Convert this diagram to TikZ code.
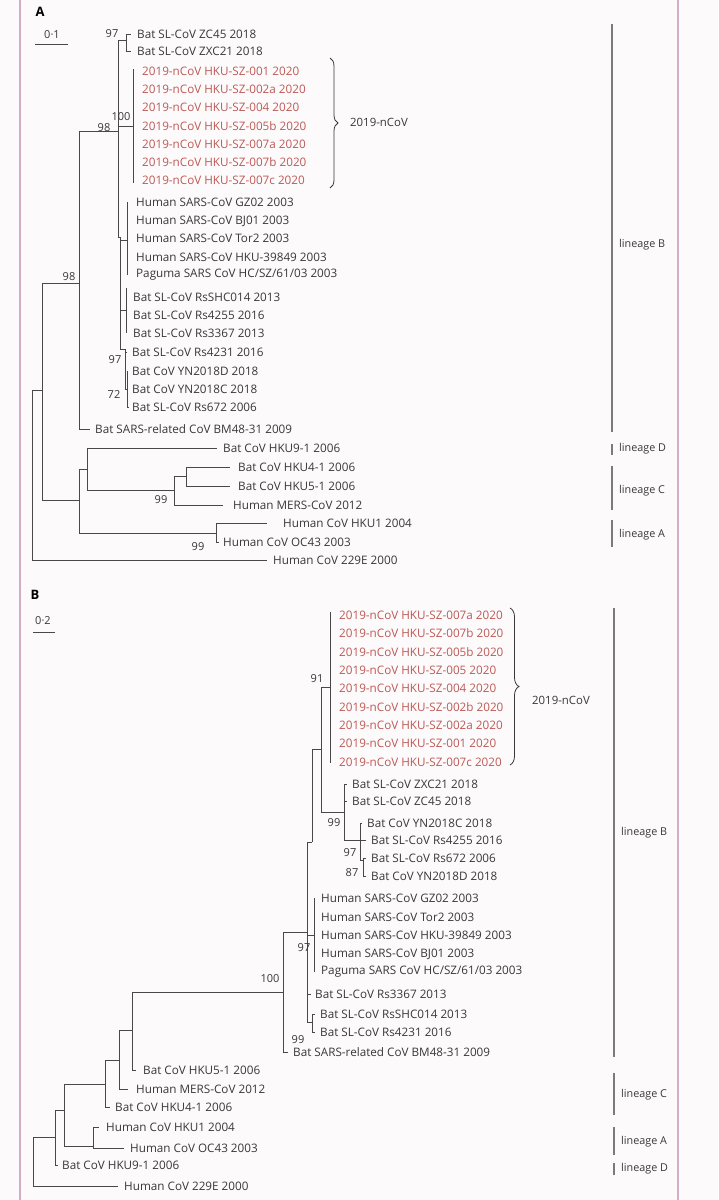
\documentclass[tikz,border=0pt]{standalone}
\usepackage{fontspec}
\setmainfont{Open Sans}
\usepackage{tikz}
\usetikzlibrary{decorations.pathreplacing}
\definecolor{ink}{HTML}{383838}
\definecolor{branch}{HTML}{484848}
\definecolor{ncov}{HTML}{BC5A55}
\definecolor{bar}{HTML}{7A7A7A}
\definecolor{rim}{HTML}{D2AEC2}
\definecolor{paper}{HTML}{FDFAFC}
\tikzset{
  br/.style={draw=branch, line width=0.8pt},
  leaf/.style={anchor=west, inner sep=0pt, text=ink, font=\fontsize{11.7}{13}\selectfont},
  nleaf/.style={leaf, text=ncov},
  boot/.style={text=ink, inner sep=0pt, font=\fontsize{11}{13}\selectfont},
  lin/.style={draw=bar, line width=1.3pt},
  linlab/.style={anchor=west, inner sep=0pt, text=ink, font=\fontsize{10.8}{12}\selectfont},
  brc/.style={draw=ink, line width=0.8pt, decorate, decoration={brace, amplitude=8pt}},
  panel/.style={text=black, inner sep=0pt, font=\bfseries\fontsize{13}{15}\selectfont}
}

\begin{document}
\begin{tikzpicture}[x=1pt, y=-1pt]
  \useasboundingbox (0,0) rectangle (718,1200);
  \fill[paper] (0,0) rectangle (718,1200);
  \draw[rim, line width=1.2pt] (20,0) -- (20,1200);
  \draw[rim, line width=1.2pt] (678,0) -- (678,1200);

  \node[panel] (pA) at (40,12) {A};
  \node[boot] (sclA) at (52,35) {0·1};
  \draw[br] (35,44) -- (68,44);

  \node[leaf] (aZC) at (137,34) {Bat SL-CoV ZC45 2018};
  \node[leaf] (aZXC) at (137,51) {Bat SL-CoV ZXC21 2018};
  \foreach \s [count=\i] in {001,002a,004,005b,007a,007b,007c}
    \node[nleaf] (aN\i) at (142,{71+18.3*(\i-1)}) {2019-nCoV HKU-SZ-\s{} 2020};
  \node[leaf] (aGZ) at (136,202) {Human SARS-CoV GZ02 2003};
  \node[leaf] (aBJ) at (136,221) {Human SARS-CoV BJ01 2003};
  \node[leaf] (aTor) at (136,238) {Human SARS-CoV Tor2 2003};
  \node[leaf] (aHKU) at (136,257) {Human SARS-CoV HKU-39849 2003};
  \node[leaf] (aPag) at (136,275) {Paguma SARS CoV HC/SZ/61/03 2003};
  \node[leaf] (aSHC) at (133,297) {Bat SL-CoV RsSHC014 2013};
  \node[leaf] (aR4255) at (133,315) {Bat SL-CoV Rs4255 2016};
  \node[leaf] (aR3367) at (133,333) {Bat SL-CoV Rs3367 2013};
  \node[leaf] (aR4231) at (132,352) {Bat SL-CoV Rs4231 2016};
  \node[leaf] (aYND) at (132,371) {Bat CoV YN2018D 2018};
  \node[leaf] (aYNC) at (132,389) {Bat CoV YN2018C 2018};
  \node[leaf] (aR672) at (132,407) {Bat SL-CoV Rs672 2006};
  \node[leaf] (aBM) at (95,429) {Bat SARS-related CoV BM48-31 2009};
  \node[leaf] (aK9) at (223,448) {Bat CoV HKU9-1 2006};
  \node[leaf] (aK4) at (238,467) {Bat CoV HKU4-1 2006};
  \node[leaf] (aK5) at (238,486) {Bat CoV HKU5-1 2006};
  \node[leaf] (aMERS) at (233,505) {Human MERS-CoV 2012};
  \node[leaf] (aK1) at (283,523) {Human CoV HKU1 2004};
  \node[leaf] (aOC) at (223,542) {Human CoV OC43 2003};
  \node[leaf] (aE) at (273,560) {Human CoV 229E 2000};

  \coordinate (rA) at (32,390);
  \coordinate (nA1) at (42,390);
  \coordinate (nA2) at (79,283);
  \coordinate (nA3) at (79,500);
  \coordinate (nA4) at (118,131);
  \coordinate (nA5) at (126,40);
  \coordinate (nA6) at (133,126);
  \coordinate (nA10) at (120,237);
  \coordinate (nA7) at (127,240);
  \coordinate (nA8) at (126,310);
  \coordinate (nA9) at (125,349);
  \coordinate (nA11) at (127,389);
  \coordinate (nA12) at (87,469);
  \coordinate (nA13) at (216,533);
  \coordinate (nA14) at (174,490);
  \coordinate (nA15) at (186,476);

  \draw[br] (rA) |- (nA1);
  \draw[br] (rA) |- ([xshift=-6pt]aE.west);
  \draw[br] (nA1) |- (nA2);
  \draw[br] (nA1) |- (nA3);
  \draw[br] (nA2) |- (nA4);
  \draw[br] (nA2) |- ([xshift=-5pt]aBM.west);
  \draw[br] (nA4) |- (nA5);
  \draw[br] (nA4) |- (nA6);
  \draw[br] (nA4) |- (nA10);
  \draw[br] (nA5) |- ([xshift=-6pt]aZC.west);
  \draw[br] (nA5) |- ([xshift=-6pt]aZXC.west);
  \draw[br] ([xshift=-9pt,yshift=2pt]aN1.west) -- ([xshift=-9pt,yshift=-2pt]aN7.west);
  \draw[br] (nA10) |- (nA7);
  \draw[br] (nA10) |- (nA8);
  \draw[br] (nA10) |- (nA9);
  \draw[br] ([xshift=-9pt]aGZ.west) -- ([xshift=-9pt]aPag.west);
  \draw[br] ([xshift=-7pt,yshift=9pt]aSHC.west) -- ([xshift=-7pt]aR3367.west);
  \draw[br] (nA9) |- ([xshift=-5pt]aR4231.west);
  \draw[br] (nA9) |- (nA11);
  \draw[br] (nA11) |- ([xshift=-4pt]aYND.west);
  \draw[br] (nA11) |- ([xshift=-4pt]aYNC.west);
  \draw[br] (nA11) |- ([xshift=-3pt]aR672.west);
  \draw[br] (nA3) |- (nA12);
  \draw[br] (nA3) |- (nA13);
  \draw[br] (nA12) |- ([xshift=-6pt]aK9.west);
  \draw[br] (nA12) |- (nA14);
  \draw[br] (nA14) |- (nA15);
  \draw[br] (nA14) |- ([xshift=-10pt]aMERS.west);
  \draw[br] (nA15) |- ([xshift=-8pt]aK4.west);
  \draw[br] (nA15) |- ([xshift=-8pt]aK5.west);
  \draw[br] (nA13) |- ([xshift=-16pt]aK1.west);
  \draw[br] (nA13) |- ([xshift=-4pt]aOC.west);

  \node[boot] (bA97a) at (112,34) {97};
  \node[boot] (bA100) at (121,117) {100};
  \node[boot] (bA98a) at (104,128) {98};
  \node[boot] (bA98b) at (69,277) {98};
  \node[boot] (bA97b) at (115,360) {97};
  \node[boot] (bA72) at (114,395) {72};
  \node[boot] (bA99a) at (161,500) {99};
  \node[boot] (bA99b) at (198,547) {99};

  \coordinate (braA1) at (330,58);
  \coordinate (braA2) at (330,188);
  \draw[brc] (braA1) -- (braA2);
  \node[linlab, font=\fontsize{11.4}{13}\selectfont] (grpA) at (350,122) {2019-nCoV};

  \draw[lin] (612,24) -- (612,432);
  \node[linlab] (lAB) at (619,245) {lineage B};
  \draw[lin] (612,444) -- (612,455);
  \node[linlab] (lAD) at (619,449) {lineage D};
  \draw[lin] (612,466) -- (612,510);
  \node[linlab] (lAC) at (619,491) {lineage C};
  \draw[lin] (612,520) -- (612,547);
  \node[linlab] (lAA) at (619,535) {lineage A};

  \node[panel] (pB) at (35,595) {B};
  \node[boot] (sclB) at (43,621) {0·2};
  \draw[br] (33,632) -- (55,632);

  \foreach \s [count=\i] in {007a,007b,005b,005,004,002b,002a,001,007c}
    \node[nleaf] (bN\i) at (339,{615+18.375*(\i-1)}) {2019-nCoV HKU-SZ-\s{} 2020};
  \node[leaf] (bZXC) at (352,784) {Bat SL-CoV ZXC21 2018};
  \node[leaf] (bZC) at (352,801) {Bat SL-CoV ZC45 2018};
  \node[leaf] (bYNC) at (367,823) {Bat CoV YN2018C 2018};
  \node[leaf] (bR4255) at (371,840) {Bat SL-CoV Rs4255 2016};
  \node[leaf] (bR672) at (371,858) {Bat SL-CoV Rs672 2006};
  \node[leaf] (bYND) at (371,876) {Bat CoV YN2018D 2018};
  \node[leaf] (bGZ) at (321,898) {Human SARS-CoV GZ02 2003};
  \node[leaf] (bTor) at (321,917) {Human SARS-CoV Tor2 2003};
  \node[leaf] (bHKU) at (321,935) {Human SARS-CoV HKU-39849 2003};
  \node[leaf] (bBJ) at (321,954) {Human SARS-CoV BJ01 2003};
  \node[leaf] (bPag) at (321,972) {Paguma SARS CoV HC/SZ/61/03 2003};
  \node[leaf] (bR3367) at (315,994) {Bat SL-CoV Rs3367 2013};
  \node[leaf] (bSHC) at (320,1014) {Bat SL-CoV RsSHC014 2013};
  \node[leaf] (bR4231) at (320,1032) {Bat SL-CoV Rs4231 2016};
  \node[leaf] (bBM) at (293,1052) {Bat SARS-related CoV BM48-31 2009};
  \node[leaf] (bK5) at (143,1070) {Bat CoV HKU5-1 2006};
  \node[leaf] (bMERS) at (136,1089) {Human MERS-CoV 2012};
  \node[leaf] (bK4) at (115,1107) {Bat CoV HKU4-1 2006};
  \node[leaf] (bK1) at (106,1127) {Human CoV HKU1 2004};
  \node[leaf] (bOC) at (130,1148) {Human CoV OC43 2003};
  \node[leaf] (bK9) at (62,1165) {Bat CoV HKU9-1 2006};
  \node[leaf] (bE) at (124,1186) {Human CoV 229E 2000};

  \coordinate (rB) at (33,1137);
  \coordinate (nB1) at (55,1137);
  \coordinate (nB2) at (64,1110);
  \coordinate (nB3) at (105,1084);
  \coordinate (nB4) at (93,1146);
  \coordinate (nB5) at (119,1060);
  \coordinate (nB6) at (132,1030);
  \coordinate (nB7) at (283,992);
  \coordinate (nB8) at (307,932);
  \coordinate (nB9) at (312,842);
  \coordinate (nB10) at (314,935);
  \coordinate (nB11) at (312,1022);
  \coordinate (nB12) at (321,749);
  \coordinate (nB13) at (330,687);
  \coordinate (nB14) at (344,812);
  \coordinate (nB15) at (360,840);
  \coordinate (nB16) at (363,860);

  \draw[br] (rB) |- (nB1);
  \draw[br] (rB) |- ([xshift=-6pt]bE.west);
  \draw[br] (nB1) |- (nB2);
  \draw[br] (nB1) |- ([xshift=-4pt]bK9.west);
  \draw[br] (nB2) |- (nB3);
  \draw[br] (nB2) |- (nB4);
  \draw[br] (nB4) |- ([xshift=-7pt]bK1.west);
  \draw[br] (nB4) |- ([xshift=-6pt]bOC.west);
  \draw[br] (nB3) |- (nB5);
  \draw[br] (nB3) |- ([xshift=-5pt]bK4.west);
  \draw[br] (nB5) |- (nB6);
  \draw[br] (nB5) |- ([xshift=-8pt]bMERS.west);
  \draw[br] (nB6) |- (nB7);
  \draw[br] (nB6) |- ([xshift=-7pt]bK5.west);
  \draw[br] (nB7) |- (nB8);
  \draw[br] (nB7) |- ([xshift=-5pt]bBM.west);
  \draw[br] (nB8) |- (nB9);
  \draw[br] (nB8) |- (nB10);
  \draw[br] (nB8) |- ([xshift=-4pt]bR3367.west);
  \draw[br] (nB8) |- (nB11);
  \draw[br] ([xshift=-7pt]bGZ.west) -- ([xshift=-7pt]bPag.west);
  \draw[br] (nB11) |- ([xshift=-5pt]bSHC.west);
  \draw[br] (nB11) |- ([xshift=-5pt]bR4231.west);
  \draw[br] (nB9) |- (nB12);
  \draw[br] (nB12) |- (nB13);
  \draw[br] (nB12) |- (nB14);
  \draw[br] ([xshift=-9pt,yshift=3pt]bN1.west) -- ([xshift=-9pt,yshift=-1pt]bN9.west);
  \draw[br] (nB14) |- ([xshift=-5pt]bZXC.west);
  \draw[br] (nB14) |- ([xshift=-5pt]bZC.west);
  \draw[br] (nB14) |- (nB15);
  \draw[br] (nB15) |- ([xshift=-5pt]bYNC.west);
  \draw[br] (nB15) |- ([xshift=-5pt]bR4255.west);
  \draw[br] (nB15) |- (nB16);
  \draw[br] (nB16) |- ([xshift=-5pt]bR672.west);
  \draw[br] (nB16) |- ([xshift=-5pt]bYND.west);

  \node[boot] (bB91) at (317,679) {91};
  \node[boot] (bB99a) at (334,823) {99};
  \node[boot] (bB97a) at (350,853) {97};
  \node[boot] (bB87) at (352,873) {87};
  \node[boot] (bB97b) at (304,948) {97};
  \node[boot] (bB100) at (270,979) {100};
  \node[boot] (bB99b) at (298,1040) {99};

  \coordinate (braB1) at (510,608);
  \coordinate (braB2) at (510,765);
  \draw[brc, decoration={brace, amplitude=9pt}] (braB1) -- (braB2);
  \node[linlab, font=\fontsize{11.4}{13}\selectfont] (grpB) at (532,700) {2019-nCoV};

  \draw[lin] (614,608) -- (614,1057);
  \node[linlab] (lBB) at (621,833) {lineage B};
  \draw[lin] (614,1073) -- (614,1115);
  \node[linlab] (lBC) at (621,1095) {lineage C};
  \draw[lin] (614,1127) -- (614,1155);
  \node[linlab] (lBA) at (621,1142) {lineage A};
  \draw[lin] (614,1163) -- (614,1175);
  \node[linlab] (lBD) at (621,1169) {lineage D};
\end{tikzpicture}
\end{document}
